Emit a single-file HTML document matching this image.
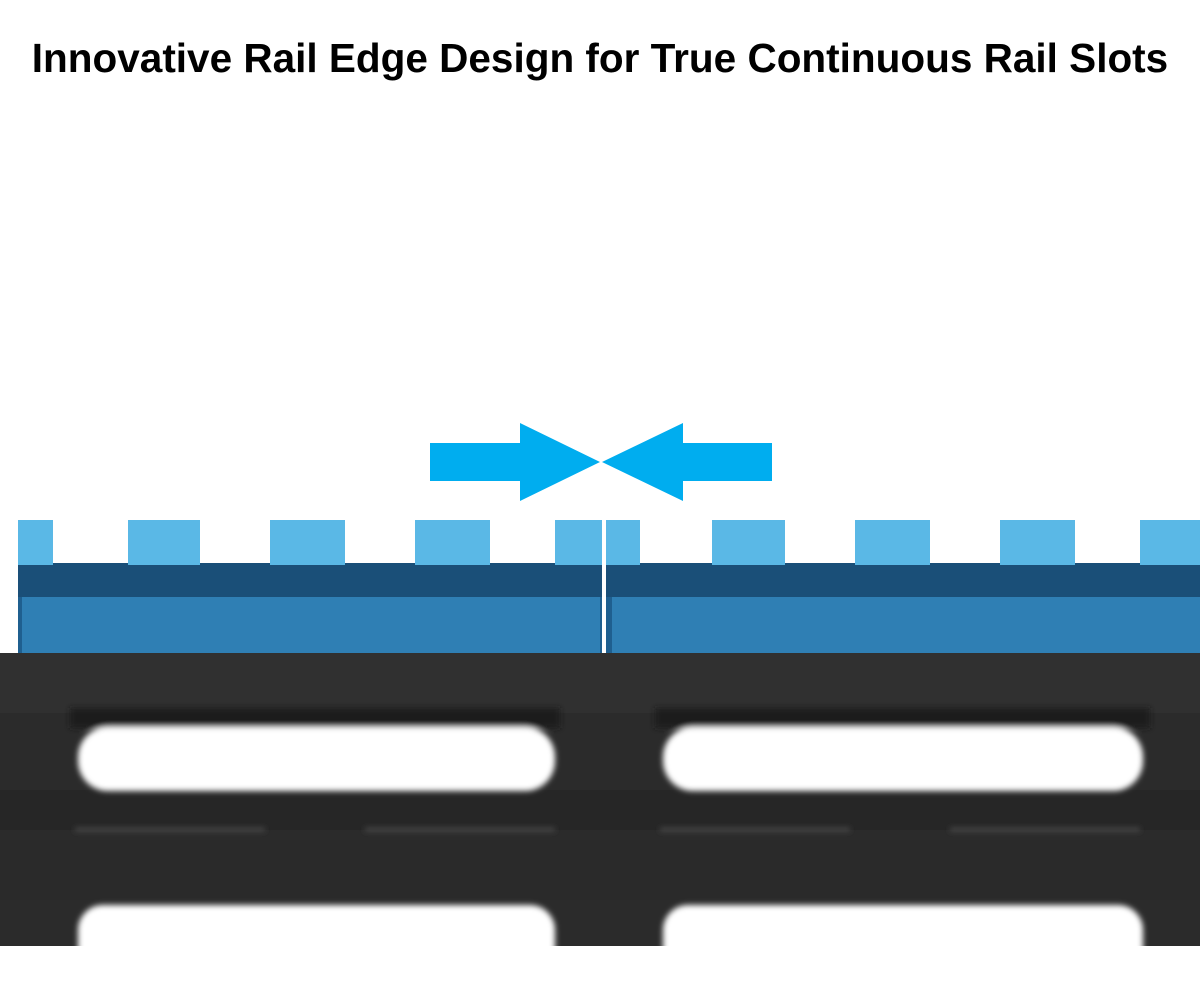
<!DOCTYPE html>
<html><head><style>
body{margin:0;width:1200px;height:990px;background:#fff;overflow:hidden;position:relative;font-family:"Liberation Sans",sans-serif}
h1{position:absolute;top:35px;left:0;width:1200px;text-align:center;margin:0;font-size:40.5px;font-weight:bold;color:#000;white-space:nowrap}
</style></head><body>
<h1>Innovative Rail Edge Design for True Continuous Rail Slots</h1>
<svg width="1200" height="990" style="position:absolute;left:0;top:0">
<defs>
<filter id="b" x="-10%" y="-50%" width="120%" height="200%"><feGaussianBlur stdDeviation="3"/></filter>
</defs>
<polygon points="430,443 520,443 520,423 600,462 520,501 520,481 430,481" fill="#00adef"/>
<polygon points="772,443 683,443 683,423 602,462 683,501 683,481 772,481" fill="#00adef"/>
<g>
<rect x="18" y="563" width="584" height="92" fill="#1f5f8f"/>
<rect x="22" y="597" width="578" height="58" fill="#2f7fb4"/>
<rect x="18" y="563" width="584" height="34" fill="#1a4f78"/>
<g fill="#5ab8e6">
<rect x="18" y="520" width="35" height="45"/><rect x="128" y="520" width="72" height="45"/>
<rect x="270" y="520" width="75" height="45"/><rect x="415" y="520" width="75" height="45"/>
<rect x="555" y="520" width="47" height="45"/>
</g>
<rect x="606" y="563" width="594" height="92" fill="#1f5f8f"/>
<rect x="612" y="597" width="588" height="58" fill="#2f7fb4"/>
<rect x="606" y="563" width="594" height="34" fill="#1a4f78"/>
<g fill="#5ab8e6">
<rect x="606" y="520" width="34" height="45"/><rect x="712" y="520" width="73" height="45"/>
<rect x="855" y="520" width="75" height="45"/><rect x="1000" y="520" width="75" height="45"/>
<rect x="1140" y="520" width="60" height="45"/>
</g>
</g>
<rect x="0" y="653" width="1200" height="293" fill="#2b2b2b"/>
<rect x="0" y="653" width="1200" height="60" fill="#303030"/>
<rect x="0" y="790" width="1200" height="40" fill="#262626"/>
<rect x="0" y="840" width="1200" height="60" fill="#2a2a2a"/>
<g filter="url(#b)">
<rect x="70" y="708" width="490" height="20" fill="#1a1a1a"/>
<rect x="655" y="708" width="495" height="20" fill="#1a1a1a"/>
<rect x="78" y="727" width="477" height="64" rx="30" fill="#fff"/>
<rect x="663" y="727" width="480" height="64" rx="30" fill="#fff"/>
<rect x="75" y="828" width="190" height="3" fill="#555"/>
<rect x="365" y="828" width="190" height="3" fill="#555"/>
<rect x="660" y="828" width="190" height="3" fill="#555"/>
<rect x="950" y="828" width="190" height="3" fill="#555"/>
<rect x="78" y="905" width="477" height="80" rx="25" fill="#fff"/>
<rect x="663" y="905" width="480" height="80" rx="25" fill="#fff"/>
</g>
<rect x="0" y="946" width="1200" height="44" fill="#fff"/>
</svg>
</body></html>
